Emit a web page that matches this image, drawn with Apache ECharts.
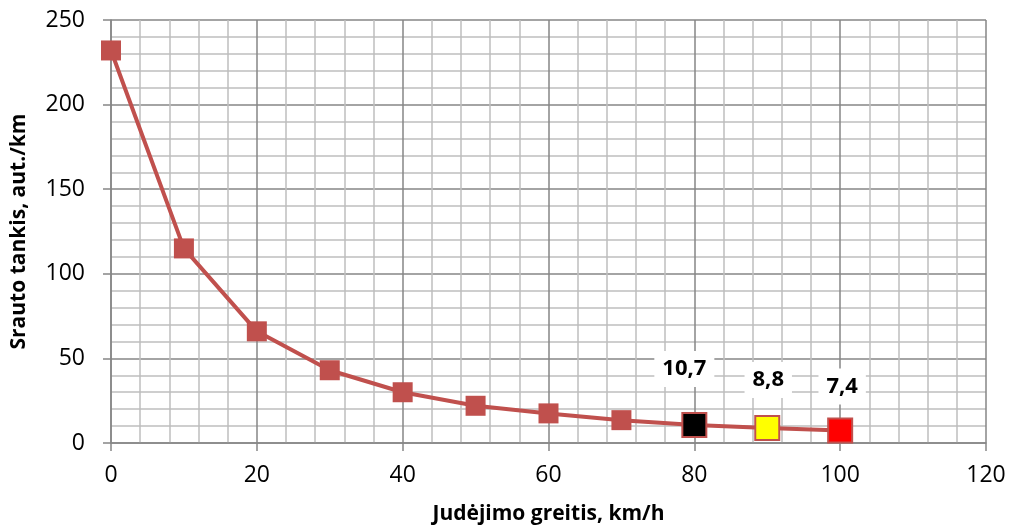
<!DOCTYPE html>
<html><head><meta charset="utf-8">
<script src="https://cdn.jsdelivr.net/npm/echarts@6/dist/echarts.min.js"></script>
<style>html,body{margin:0;padding:0;background:#fff}#c{width:1009px;height:530px}</style>
</head><body><div id="c"></div>
<script>
const speeds = [0, 10, 20, 30, 40, 50, 60, 70, 80, 90, 100];
const density = [232, 115, 66, 43, 30, 22, 17.5, 13.5, 10.7, 8.8, 7.4];
const xTicks = [0, 20, 40, 60, 80, 100, 120];
const yTicks = [0, 50, 100, 150, 200, 250];
const highlight = {80: '#000000', 90: '#ffff00', 100: '#ff0000'};
const labelDist = {80: 25, 90: 17, 100: 13};
const labelOff = {80: [-10, 0], 90: [1, 0], 100: [2, 0]};
const FONT = 'Open Sans';

const data = speeds.map((s, i) => {
  const item = {value: [s, density[i]]};
  if (highlight[s]) {
    item.symbolSize = 24;
    item.itemStyle = {color: highlight[s], borderColor: '#c0504d', borderWidth: 2};
    item.label = {
      show: true, position: 'top', distance: labelDist[s], offset: labelOff[s],
      formatter: String(density[i]).replace('.', ','),
      fontFamily: FONT, fontWeight: 'bold', fontSize: 22, color: '#000',
      backgroundColor: '#fff', padding: [7, 8]
    };
  }
  return item;
});

const chart = echarts.init(document.getElementById('c'), null, {renderer: 'canvas'});
chart.setOption({
  animation: false,
  grid: {left: 111, right: 23, top: 20, bottom: 86, show: false},
  xAxis: {
    type: 'value', min: 0, max: 120, interval: 20,
    name: 'Judėjimo greitis, km/h', nameLocation: 'middle', nameGap: 61,
    nameTextStyle: {fontFamily: FONT, fontWeight: 'bold', fontSize: 21, color: '#000'},
    axisLine: {show: true, lineStyle: {color: '#868686', width: 1.5}},
    axisTick: {show: true, length: 8, lineStyle: {color: '#868686', width: 1.5}},
    axisLabel: {fontFamily: FONT, fontSize: 23, color: '#000', margin: 21},
    splitLine: {show: true, lineStyle: {color: '#868686', width: 1.5}},
    minorTick: {show: false, splitNumber: 5},
    minorSplitLine: {show: true, lineStyle: {color: '#bfbfbf', width: 1.5}}
  },
  yAxis: {
    type: 'value', min: 0, max: 250, interval: 50,
    name: 'Srauto tankis, aut./km', nameLocation: 'middle', nameGap: 81,
    nameTextStyle: {fontFamily: FONT, fontWeight: 'bold', fontSize: 21, color: '#000'},
    axisLine: {show: true, lineStyle: {color: '#868686', width: 1.5}},
    axisTick: {show: true, length: 8, lineStyle: {color: '#868686', width: 1.5}},
    axisLabel: {fontFamily: FONT, fontSize: 23, color: '#000', margin: 26},
    splitLine: {show: true, lineStyle: {color: '#868686', width: 1.5}},
    minorTick: {show: false, splitNumber: 5},
    minorSplitLine: {show: true, lineStyle: {color: '#bfbfbf', width: 1.5}}
  },
  series: [{
    type: 'line', data: data, symbol: 'rect', symbolSize: 20,
    lineStyle: {color: '#c0504d', width: 4},
    itemStyle: {color: '#c0504d'},
    z: 5
  }]
});
</script></body></html>
